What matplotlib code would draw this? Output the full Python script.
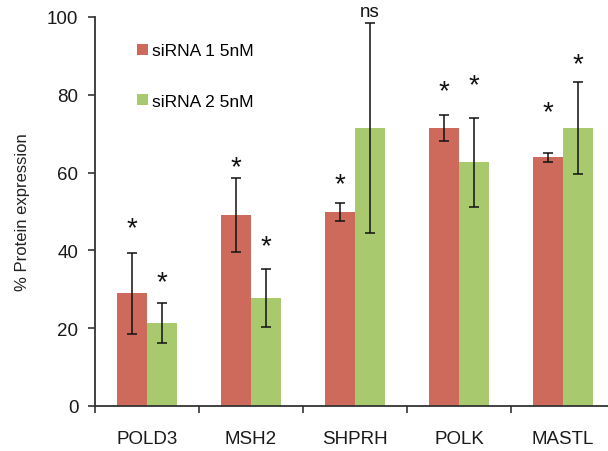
import numpy as np
import matplotlib
matplotlib.use("Agg")
import matplotlib.pyplot as plt

# values
genes = ["POLD3", "MSH2", "SHPRH", "POLK", "MASTL"]
sirna1 = [29.0, 49.1, 49.8, 71.4, 63.9]
sirna1_err = [10.4, 9.5, 2.3, 3.4, 1.2]
sirna2 = [21.4, 27.8, 71.4, 62.6, 71.4]
sirna2_err = [5.2, 7.5, 27.0, 11.5, 11.8]
# significance marks and where they sit
sig1 = ["*", "*", "*", "*", "*"]
sig1_y = [45.8, 61.4, 57.1, 81.0, 75.6]
sig2 = ["*", "*", "ns", "*", "*"]
sig2_y = [31.9, 41.1, 101.3, 82.5, 87.9]

plt.rcParams['font.family'] = ['Liberation Sans', 'DejaVu Sans']

red = '#cd6a5b'
green = '#a8c96e'

fig = plt.figure(figsize=(6.08, 4.52), dpi=100)
ax = fig.add_axes([95/608, 45/452, 520/608, 389/452])

x = np.arange(len(genes))
w = 0.285
ax.bar(x - w/2, sirna1, w, color=red, label='siRNA 1 5nM',
       yerr=sirna1_err, error_kw=dict(ecolor='#111111', elinewidth=1.1, capsize=3.5, capthick=1.1))
ax.bar(x + w/2, sirna2, w, color=green, label='siRNA 2 5nM',
       yerr=sirna2_err, error_kw=dict(ecolor='#111111', elinewidth=1.1, capsize=3.5, capthick=1.1))

for i in range(len(genes)):
    fs1 = 20 if sig1[i] == "*" else 13.5
    fs2 = 20 if sig2[i] == "*" else 13.5
    ax.text(x[i] - w/2, sig1_y[i], sig1[i], ha='center', va='center', fontsize=fs1, color='#111111')
    ax.text(x[i] + w/2, sig2_y[i], sig2[i], ha='center', va='center', fontsize=fs2, color='#111111')

ax.set_xlim(-0.5, len(genes) - 0.5)
ax.set_ylim(0, 100)
ax.set_yticks([0, 20, 40, 60, 80, 100])
ax.set_xticks(x)
ax.set_xticklabels(genes)
ax.set_xticks(np.arange(len(genes) + 1) - 0.5, minor=True)
ax.tick_params(axis='x', which='major', length=0, pad=17, labelsize=13.5, labelcolor='#1a1a1a')
ax.tick_params(axis='x', which='minor', length=5, width=1.2, color='#333333')
ax.tick_params(axis='y', length=5, width=1.2, color='#333333', labelsize=13.5, pad=7,
               labelcolor='#1a1a1a')
ax.set_ylabel('% Protein expression', fontsize=12, labelpad=12, color='#222222')

for s in ['top', 'right']:
    ax.spines[s].set_visible(False)
for s in ['left', 'bottom']:
    ax.spines[s].set_color('#333333')
    ax.spines[s].set_linewidth(1.3)

ax.legend(loc='upper left', bbox_to_anchor=(0.065, 0.955), frameon=False, fontsize=12.5,
          handlelength=0.6, handleheight=0.6, handletextpad=0.25, labelspacing=2.05,
          borderpad=0)

fig.savefig('out.png', dpi=100)
